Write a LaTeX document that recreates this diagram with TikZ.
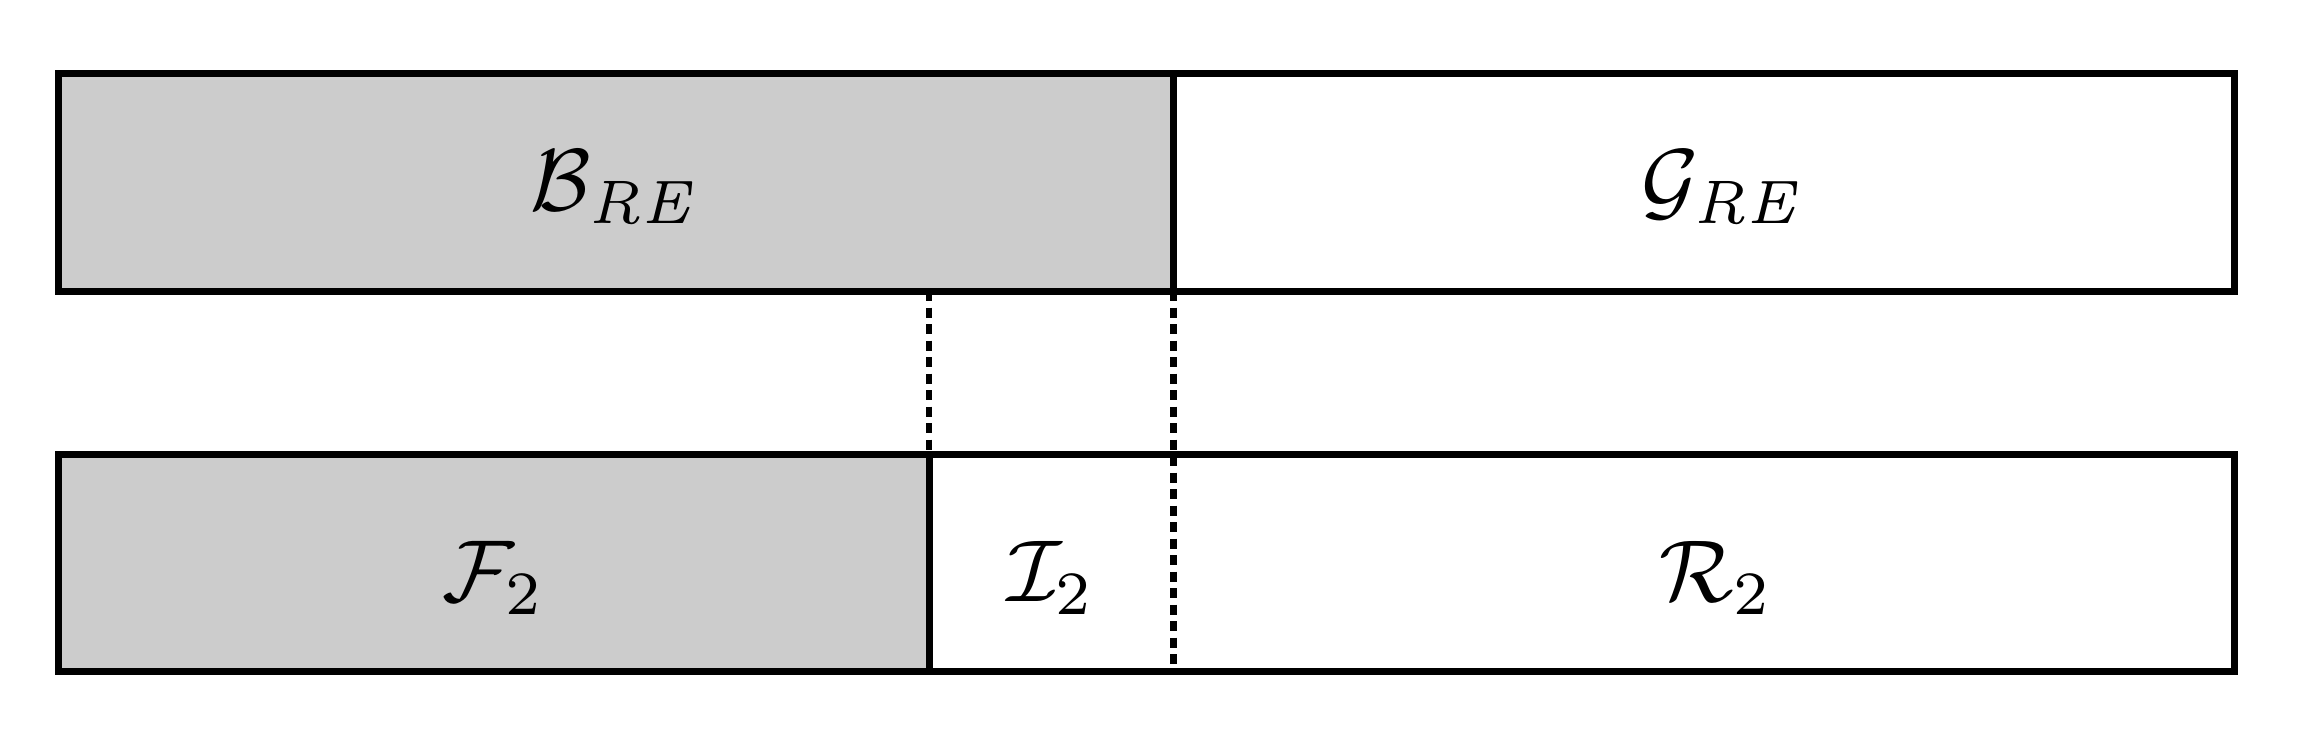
\documentclass[tikz,border=0pt]{standalone}
\begin{document}
\begin{tikzpicture}[x=0.01cm,y=-0.01cm,
  box/.style={draw=black,line width=0.07cm},
  shaded/.style={box,fill=black!20},
  sep/.style={draw=black,line width=0.065cm,dash pattern=on 0.1cm off 0.065cm},
  lbl/.style={scale=2.5,inner sep=0pt}]
\useasboundingbox (0,0) rectangle (2307,745);
% top row
\path[shaded] (58.5,73.5) rectangle (1173.5,291);
\path[box] (1173.5,73.5) rectangle (2234.5,291);
% bottom row
\path[shaded] (58.5,454.5) rectangle (929,671);
\path[box] (929,454.5) rectangle (2234.5,671);
% dashed separators
\coordinate (a1) at (929,291);
\coordinate (a2) at (929,454.5);
\coordinate (b1) at (1173.5,291);
\coordinate (b2) at (1173.5,671);
\draw[sep] (a1) -- (a2);
\draw[sep] (b1) -- (b2);
% labels
\node[lbl] (B) at (616,187) {$\mathcal{B}_{\mathit{RE}}$};
\node[lbl] (G) at (1724,187) {$\mathcal{G}_{\mathit{RE}}$};
\node[lbl] (F) at (494,578) {$\mathcal{F}_2$};
\node[lbl] (I) at (1051,578) {$\mathcal{I}_2$};
\node[lbl] (R) at (1716,578) {$\mathcal{R}_2$};
\end{tikzpicture}
\end{document}
